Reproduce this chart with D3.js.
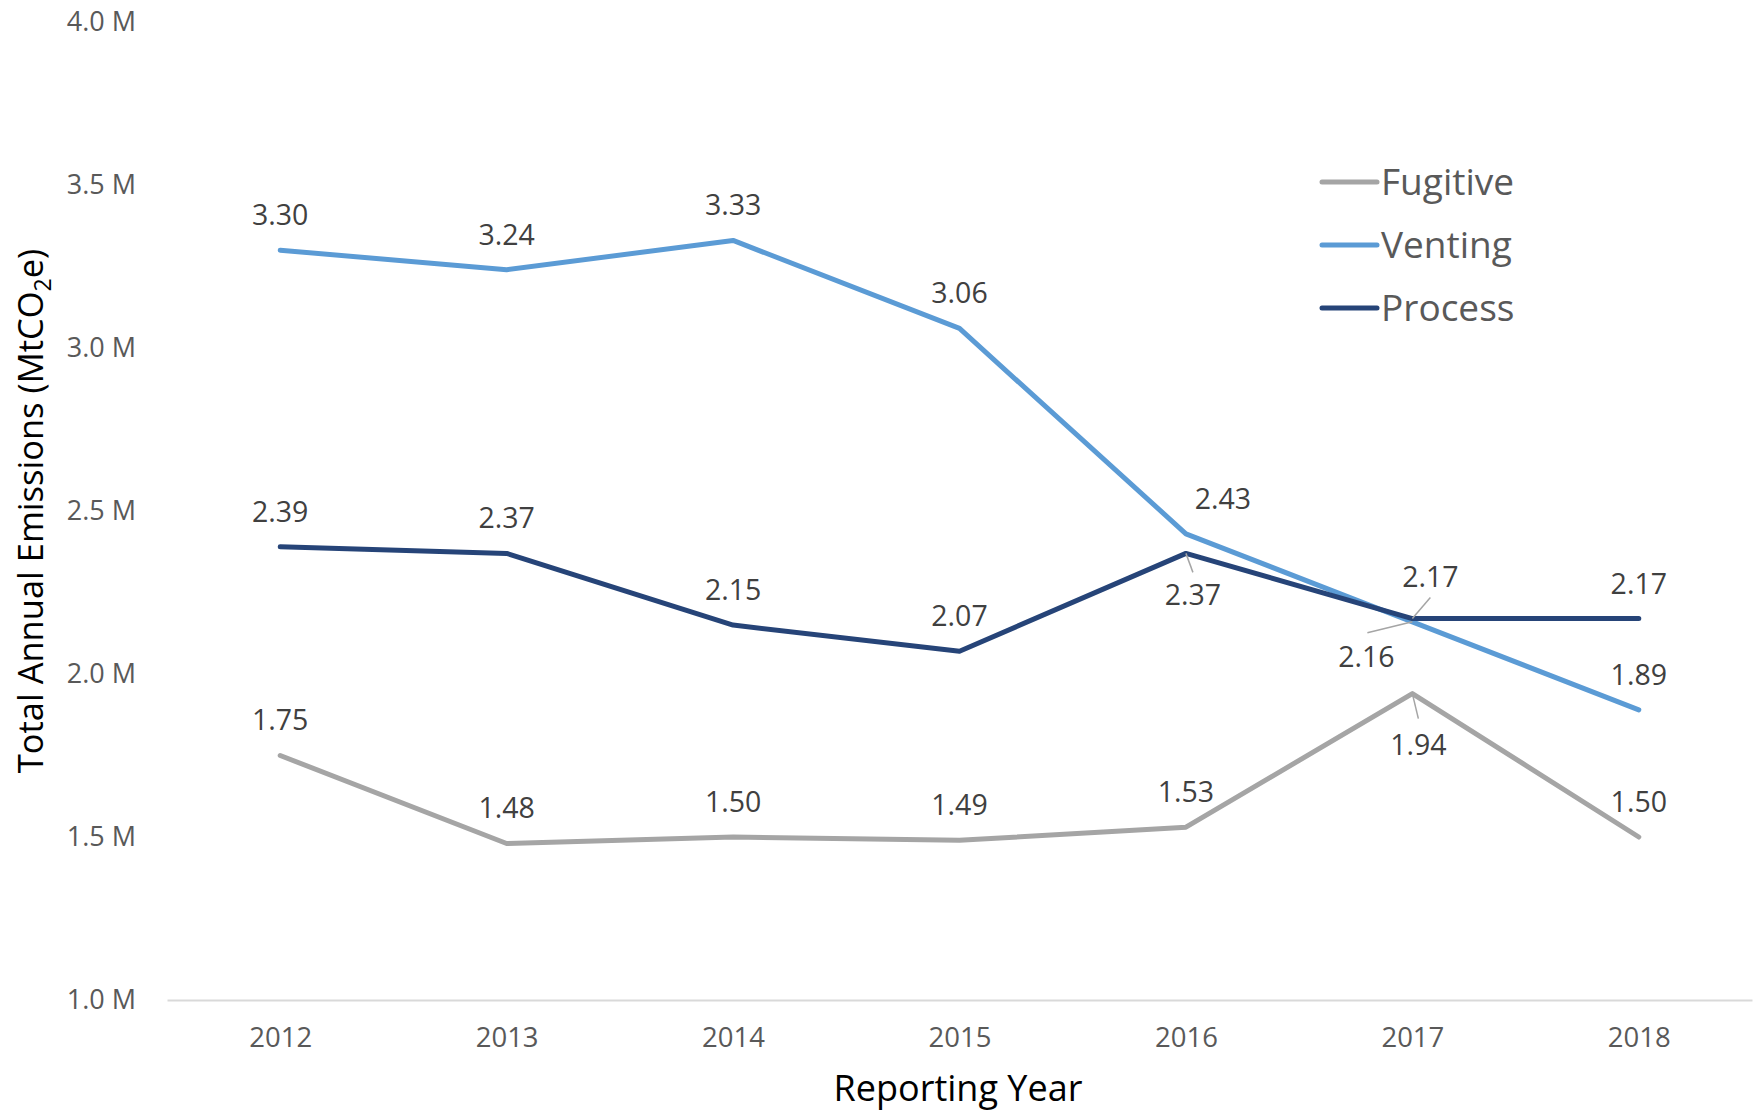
<!DOCTYPE html>
<html>
<head>
<meta charset="utf-8">
<script src="https://cdn.jsdelivr.net/npm/d3@7"></script>
<style>
  html, body { margin: 0; padding: 0; background: #fff; }
  svg { display: block; font-family: "Open Sans", Lato, sans-serif; }
</style>
</head>
<body>
<svg id="chart" width="1754" height="1111"></svg>
<script>
// Reporting years and annual emissions by source (MtCO2e)
const years = ["2012", "2013", "2014", "2015", "2016", "2017", "2018"];
const seriesNames = ["Fugitive", "Venting", "Process"];
const fugitive = [1.75, 1.48, 1.50, 1.49, 1.53, 1.94, 1.50];
const venting  = [3.30, 3.24, 3.33, 3.06, 2.43, 2.16, 1.89];
const process  = [2.39, 2.37, 2.15, 2.07, 2.37, 2.17, 2.17];
const yTicks   = [1.0, 1.5, 2.0, 2.5, 3.0, 3.5, 4.0];

const colors = { Fugitive: "#A5A5A5", Venting: "#5B9BD5", Process: "#264478" };
const seriesValues = { Fugitive: fugitive, Venting: venting, Process: process };

// Label placement: default is centred above the point; a few are nudged
// to avoid collisions and get a short leader line back toward the point.
const labelNudge = {
  "Venting-2016":  { dx: 37, dy: -35 },
  "Process-2016":  { dx: 7,  dy: 42,  leader: [7, 19] },
  "Process-2017":  { dx: 18, dy: -42, leader: [18, -21] },
  "Venting-2017":  { dx: -46, dy: 35, leader: [-45, 11] },
  "Fugitive-2017": { dx: 6,  dy: 51,  leader: [6, 25] }
};

const FONT = "'Open Sans', Lato, sans-serif";
const svg = d3.select("#chart");
const plotLeft = 167, plotRight = 1752, plotTop = 22, plotBottom = 1000;

const x = d3.scalePoint().domain(years).range([plotLeft, plotRight]).padding(0.5);
const y = d3.scaleLinear().domain([1.0, 4.0]).range([plotBottom, plotTop]);

// Y axis (labels only)
const yAxis = svg.append("g")
  .attr("transform", `translate(${plotLeft},0)`)
  .call(d3.axisLeft(y).tickValues(yTicks).tickSize(0).tickPadding(31)
    .tickFormat(d => d3.format(".1f")(d) + " M"));
yAxis.select(".domain").remove();
yAxis.selectAll("text")
  .attr("font-family", FONT)
  .attr("font-size", 27)
  .attr("fill", "#595959");

// X axis with light baseline
const xAxis = svg.append("g")
  .attr("transform", `translate(0,${plotBottom})`)
  .call(d3.axisBottom(x).tickSize(0).tickSizeOuter(0).tickPadding(27));
xAxis.select(".domain").attr("stroke", "#D9D9D9").attr("stroke-width", 2);
xAxis.selectAll("text")
  .attr("font-family", FONT)
  .attr("font-size", 27.5)
  .attr("fill", "#595959");

// Axis titles
svg.append("text")
  .attr("x", 958)
  .attr("y", 1101)
  .attr("text-anchor", "middle")
  .attr("font-size", 36)
  .attr("fill", "#000")
  .text("Reporting Year");

const yTitle = svg.append("text")
  .attr("transform", "translate(43,511) rotate(-90)")
  .attr("text-anchor", "middle")
  .attr("font-size", 34.5)
  .attr("fill", "#000");
yTitle.append("tspan").text("Total Annual Emissions (MtCO");
yTitle.append("tspan").attr("font-size", 23).attr("dy", 8).text("2");
yTitle.append("tspan").attr("dy", -8).text("e)");

// Lines
const line = d3.line()
  .x((d, i) => x(years[i]))
  .y(d => y(d));

seriesNames.forEach(name => {
  svg.append("path")
    .datum(seriesValues[name])
    .attr("fill", "none")
    .attr("stroke", colors[name])
    .attr("stroke-width", 5)
    .attr("stroke-linejoin", "round")
    .attr("stroke-linecap", "round")
    .attr("d", line);
});

// Data labels
const labels = svg.append("g");
seriesNames.forEach(name => {
  seriesValues[name].forEach((v, i) => {
    const key = name + "-" + years[i];
    const n = labelNudge[key] || { dx: 0, dy: -35 };
    const px = x(years[i]), py = y(v);
    if (n.leader) {
      labels.append("line")
        .attr("x1", px).attr("y1", py)
        .attr("x2", px + n.leader[0]).attr("y2", py + n.leader[1])
        .attr("stroke", "#A5A5A5").attr("stroke-width", 1.5);
    }
    labels.append("text")
      .attr("x", px + n.dx)
      .attr("y", py + n.dy)
      .attr("dy", "0.35em")
      .attr("text-anchor", "middle")
      .attr("font-size", 28.5)
      .attr("fill", "#404040")
      .text(d3.format(".2f")(v));
  });
});

// Legend
const legend = svg.append("g");
seriesNames.forEach((name, i) => {
  const ly = 182 + i * 63;
  legend.append("line")
    .attr("x1", 1322).attr("x2", 1377)
    .attr("y1", ly).attr("y2", ly)
    .attr("stroke", colors[name])
    .attr("stroke-width", 5)
    .attr("stroke-linecap", "round");
  legend.append("text")
    .attr("x", 1381)
    .attr("y", ly)
    .attr("dy", "0.35em")
    .attr("font-size", 37)
    .attr("fill", "#595959")
    .text(name);
});
</script>
</body>
</html>
